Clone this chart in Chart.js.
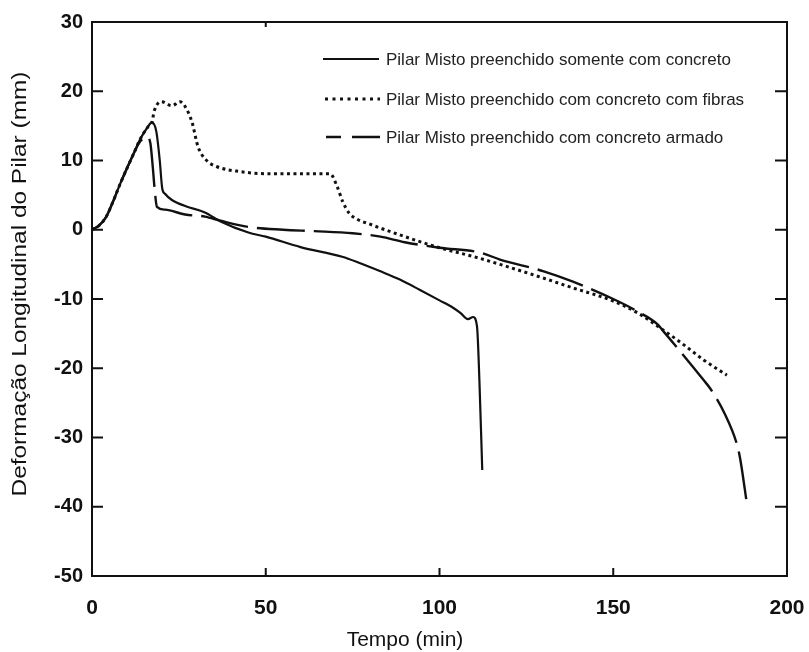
<!DOCTYPE html>
<html>
<head>
<meta charset="utf-8">
<script src="https://cdn.jsdelivr.net/npm/chart.js@4.4.1/dist/chart.umd.min.js"></script>
<style>
html,body{margin:0;padding:0;background:#fff;}
#wrap{width:809px;height:652px;position:relative;}
</style>
</head>
<body>
<div id="wrap"><canvas id="c" width="809" height="652"></canvas></div>
<script>
// ---- data ----
const seriesLabels = [
  'Pilar Misto preenchido somente com concreto',
  'Pilar Misto preenchido com concreto com fibras',
  'Pilar Misto preenchido com concreto armado'
];
const xTitle = 'Tempo (min)';
const yTitle = 'Deformação Longitudinal do Pilar (mm)';
const xTickValues = [0, 50, 100, 150, 200];
const xTickLabels = ['0', '50', '100', '150', '200'];
const yTickValues = [30, 20, 10, 0, -10, -20, -30, -40, -50];
const yTickLabels = ['30', '20', '10', '0', '-10', '-20', '-30', '-40', '-50'];

const timeSolid = [0, 2, 4, 6, 8, 10, 12, 14, 16, 17.2, 18.5, 19.5, 20.2, 21, 23, 27, 32.5, 37, 45, 50, 60, 72, 77, 83, 88.6, 94.4, 100, 104, 106, 108.2, 109.7, 110.8, 111.5, 112.3];
const defSolid  = [0, 0.6, 1.8, 4, 6.5, 8.8, 11, 13.2, 14.8, 15.5, 14.2, 10, 6, 5.2, 4.3, 3.4, 2.5, 1.2, -0.4, -1.0, -2.5, -3.9, -4.8, -6, -7.2, -8.7, -10.2, -11.3, -12, -12.9, -12.6, -14, -22, -34.7];

const timeFibras = [0, 2, 4, 6, 8, 10, 12, 14, 16, 17.2, 18, 20, 23, 25.3, 26.8, 28.8, 30.5, 33, 36, 42.6, 50, 60, 68.5, 70.5, 72.2, 74, 76, 80, 86.6, 100, 110, 117.4, 130, 138.4, 150, 157, 163, 170, 176, 182.7];
const defFibras  = [0, 0.6, 1.8, 4, 6.5, 8.8, 11, 13.2, 14.8, 15.5, 17.3, 18.5, 17.9, 18.5, 17.8, 15.5, 12, 10, 9.1, 8.4, 8.1, 8.1, 8.1, 6.3, 4, 2.4, 1.6, 0.8, -0.4, -2.6, -3.9, -5.0, -7, -8.4, -10.3, -12, -14, -16.5, -18.8, -21];

const timeArmado = [0, 2, 4, 6, 8, 10, 12, 13.5, 15.8, 16.8, 17.5, 18, 18.7, 21, 26.8, 32.5, 37, 45, 55, 64, 75, 83, 90, 100, 111.7, 117.4, 130, 138.4, 150, 157, 162.6, 165, 170, 176, 178, 182, 185.6, 186.5, 188.5];
const defArmado  = [0, 0.6, 1.8, 4, 6.5, 8.8, 11, 12.5, 13.4, 12.5, 9, 6, 3.3, 2.9, 2.2, 1.9, 1.3, 0.4, 0, -0.2, -0.5, -1.0, -1.8, -2.6, -3.3, -4.3, -6, -7.5, -10, -11.8, -13.6, -15.0, -18.0, -21.7, -23.0, -26.5, -31, -33, -39.7];

function pts(xs, ys){ return xs.map((x,i)=>({x:x, y:ys[i]})); }

const INK = '#111';
const FONT = '"Liberation Sans", Arial, sans-serif';

// draws inward tick marks, frame, axis titles and legend
const decor = {
  id: 'decor',
  afterDatasetsDraw(chart){
    const ctx = chart.ctx, a = chart.chartArea;
    const xs = chart.scales.x, ys = chart.scales.y;
    ctx.save();
    ctx.strokeStyle = INK;
    ctx.lineWidth = 2;
    ctx.setLineDash([]);
    ctx.strokeRect(a.left, a.top, a.right - a.left, a.bottom - a.top);
    ctx.beginPath();
    yTickValues.forEach(v=>{
      if (v === 30 || v === -50) return;
      const py = ys.getPixelForValue(v);
      ctx.moveTo(a.left, py); ctx.lineTo(a.left + 11, py);
      ctx.moveTo(a.right, py); ctx.lineTo(a.right - 12, py);
    });
    xTickValues.forEach(v=>{
      if (v === 0 || v === 200) return;
      const px = xs.getPixelForValue(v);
      ctx.moveTo(px, a.bottom); ctx.lineTo(px, a.bottom - 8);
    });
    const p50 = xs.getPixelForValue(50);
    ctx.moveTo(p50, a.top); ctx.lineTo(p50, a.top + 5);
    ctx.stroke();

    // axis titles
    ctx.fillStyle = INK;
    ctx.font = '21px ' + FONT;
    ctx.textAlign = 'center';
    ctx.textBaseline = 'middle';
    ctx.fillText(xTitle, 405, 640);

    ctx.save();
    ctx.translate(20, 284);
    ctx.rotate(-Math.PI/2);
    const wT = ctx.measureText(yTitle).width;
    ctx.scale(425 / wT, 1);
    ctx.fillText(yTitle, 0, 0);
    ctx.restore();

    // legend
    const rows = [59, 99, 137];
    ctx.lineWidth = 2.2;
    ctx.font = '17px ' + FONT;
    ctx.textAlign = 'left';
    chart.data.datasets.forEach((ds, i)=>{
      const y = rows[i];
      ctx.beginPath();
      if (i === 0){ ctx.setLineDash([]); ctx.moveTo(323, y); ctx.lineTo(379, y); }
      else if (i === 1){ ctx.lineWidth = 3; ctx.setLineDash([3, 4.5]); ctx.moveTo(325, y); ctx.lineTo(380, y); }
      else { ctx.lineWidth = 2.4; ctx.setLineDash([15, 11, 28, 0]); ctx.moveTo(326, y); ctx.lineTo(380, y); }
      ctx.stroke();
      ctx.setLineDash([]);
      ctx.fillStyle = '#222';
      ctx.fillText(ds.label, 386, y + 1);
    });
    ctx.restore();
  }
};

new Chart(document.getElementById('c'), {
  type: 'scatter',
  data: {
    datasets: [
      { label: seriesLabels[0], data: pts(timeSolid, defSolid), showLine: true,
        borderColor: INK, borderWidth: 2.2, pointRadius: 0, cubicInterpolationMode: 'monotone' },
      { label: seriesLabels[1], data: pts(timeFibras, defFibras), showLine: true,
        borderColor: INK, borderWidth: 3, borderDash: [3, 3.5], pointRadius: 0, cubicInterpolationMode: 'monotone' },
      { label: seriesLabels[2], data: pts(timeArmado, defArmado), showLine: true,
        borderColor: INK, borderWidth: 2.4, borderDash: [48, 9], pointRadius: 0, cubicInterpolationMode: 'monotone' }
    ]
  },
  options: {
    responsive: false,
    animation: false,
    layout: { padding: { left: 0, right: 22, top: 22, bottom: 0 } },
    plugins: { legend: { display: false }, tooltip: { enabled: false } },
    scales: {
      x: {
        type: 'linear', min: 0, max: 200,
        grid: { display: false, drawTicks: false },
        border: { display: false },
        afterBuildTicks: s => { s.ticks = xTickValues.map(v=>({value:v})); },
        afterFit: s => { s.height = 76; s.paddingLeft = 0; s.paddingRight = 0; },
        ticks: { padding: 20, color: INK, font: { family: FONT, size: 21, weight: 'bold' },
                 callback: (v) => xTickLabels[xTickValues.indexOf(v)] }
      },
      y: {
        type: 'linear', min: -50, max: 30,
        grid: { display: false, drawTicks: false },
        border: { display: false },
        afterBuildTicks: s => { s.ticks = yTickValues.map(v=>({value:v})); },
        afterFit: s => { s.width = 92; s.paddingTop = 0; s.paddingBottom = 0; },
        ticks: { padding: 9, color: INK, font: { family: FONT, size: 20, weight: 'bold' },
                 callback: (v) => yTickLabels[yTickValues.indexOf(v)] }
      }
    }
  },
  plugins: [decor]
});
</script>
</body>
</html>
